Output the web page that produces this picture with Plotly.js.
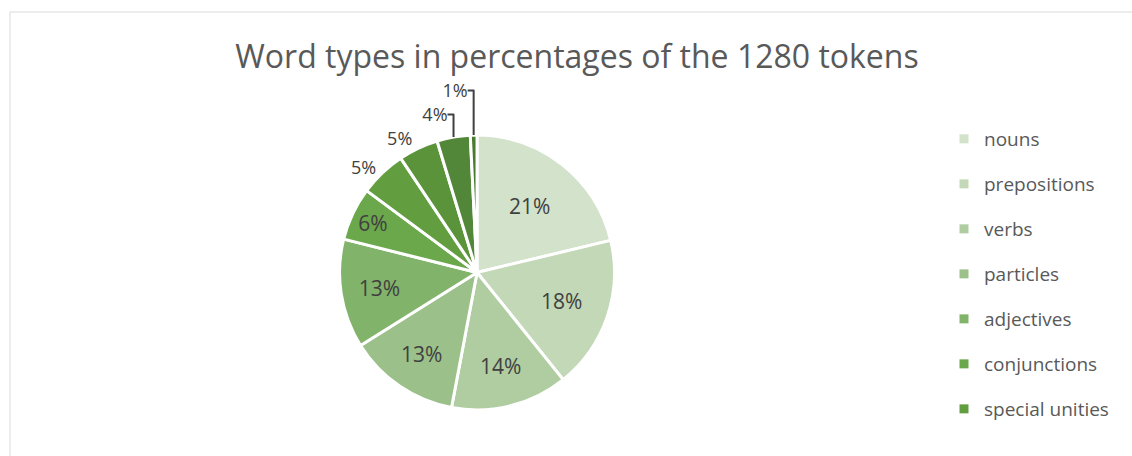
<!DOCTYPE html>
<html>
<head>
<meta charset="utf-8">
<script src="https://cdn.plot.ly/plotly-3.0.1.min.js"></script>
<style>html,body{margin:0;padding:0;background:#fff;}#chart{width:1132px;height:456px;}</style>
</head>
<body>
<div id="chart"></div>
<script>
// Word type counts (of 1280 tokens), clockwise from 12 o'clock
const categories = ["nouns", "prepositions", "verbs", "particles", "adjectives", "conjunctions", "special unities", "other type 8", "other type 9", "other type 10"];
const counts = [272, 230, 176, 168, 164, 80, 70, 60, 50, 10];
const colors = ["#D3E2CB", "#C2D8B6", "#AFCDA0", "#9CC089", "#82B36A", "#6BA74B", "#629E40", "#5A9339", "#528638", "#4A7A30"];
const legendCount = 7; // the reference legend shows only the first seven entries

const textPos = counts.map((v, i) => i < 6 ? "inside" : "outside");

const pie = {
  type: "pie",
  labels: categories,
  values: counts,
  sort: false,
  direction: "clockwise",
  rotation: 0,
  marker: {colors: colors, line: {color: "#ffffff", width: 3}},
  texttemplate: "%{percent:.0%}",
  textposition: textPos,
  insidetextorientation: "horizontal",
  textfont: {family: "Open Sans, sans-serif", size: 21, color: "#404040"},
  outsidetextfont: {family: "Open Sans, sans-serif", size: 18, color: "#404040"},
  domain: {x: [0.2995, 0.5433], y: [0.1010, 0.7039]},
  showlegend: false,
  hoverinfo: "label+percent"
};

const legendTraces = categories.slice(0, legendCount).map((name, i) => ({
  type: "scatter",
  x: [null], y: [null],
  mode: "markers",
  name: name,
  legendgroup: "g" + i,
  marker: {symbol: "square", size: 9, color: colors[i]},
  hoverinfo: "skip"
}));

const layout = {
  width: 1132, height: 456,
  margin: {l: 0, r: 0, t: 0, b: 0},
  paper_bgcolor: "#ffffff",
  plot_bgcolor: "rgba(0,0,0,0)",
  title: {
    text: "Word types in percentages of the 1280 tokens",
    font: {family: "Open Sans, sans-serif", size: 32, color: "#595959"},
    x: 577 / 1132, xanchor: "center", xref: "paper",
    y: 1 - 57 / 456, yanchor: "middle", yref: "paper"
  },
  xaxis: {visible: false, domain: [0.9, 0.91]},
  yaxis: {visible: false, domain: [0.9, 0.91]},
  legend: {
    x: 944 / 1132, xanchor: "left",
    y: 1 - 120 / 456, yanchor: "top",
    font: {family: "Open Sans, sans-serif", size: 19, color: "#595959"},
    tracegroupgap: 17.3,
    itemwidth: 30,
    bgcolor: "rgba(0,0,0,0)"
  },
  shapes: [{
    type: "rect", xref: "paper", yref: "paper",
    x0: 10 / 1132, x1: 1.05, y0: -0.05, y1: 1 - 12 / 456,
    line: {color: "#D9D9D9", width: 1}, fillcolor: "rgba(0,0,0,0)", layer: "below"
  }]
};

Plotly.newPlot("chart", [pie].concat(legendTraces), layout, {displayModeBar: false, staticPlot: true});
</script>
</body>
</html>
